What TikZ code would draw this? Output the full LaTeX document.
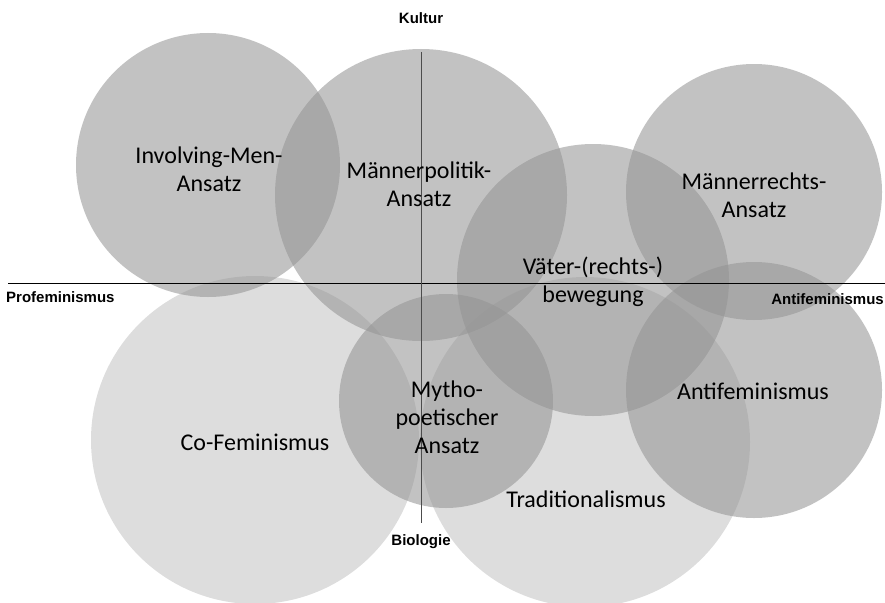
\documentclass[tikz,border=0pt]{standalone}
\usepackage{fontspec}
\setmainfont{Carlito}
\newfontfamily\axisfont{Liberation Sans}
\definecolor{circlegray}{gray}{0.58}

\begin{document}
\begin{tikzpicture}[x=1pt,y=-1pt,
    darkcircle/.style={fill=circlegray,fill opacity=0.57},
    lightcircle/.style={fill=circlegray,fill opacity=0.32},
    field/.style={font=\fontsize{24}{28}\selectfont,align=center,inner sep=0pt},
    axislabel/.style={font=\axisfont\bfseries\fontsize{15}{17}\selectfont,inner sep=0pt}]
  \useasboundingbox (0,0) rectangle (885,602);
  \clip (0,0) rectangle (885,602);
  % helle Kreise
  \foreach \x/\y/\r in {255/440/164, 585/442/165}
    \fill[lightcircle] (\x,\y) circle (\r pt);
  % dunkle Kreise
  \foreach \x/\y/\r in {208/165/132, 421/195/146, 754/192/128, 593/280/136, 754/390/128, 446/401/107}
    \fill[darkcircle] (\x,\y) circle (\r pt);
  % Achsen
  \coordinate (west) at (8,283);
  \coordinate (east) at (885,283);
  \coordinate (top) at (421,52);
  \coordinate (bottom) at (421,523);
  \draw[line width=1pt] (west) -- (east);
  \draw[line width=1pt,black!70] (top) -- (bottom);
  \node[axislabel] (kultur) at (421,18) {Kultur};
  \node[axislabel] (biologie) at (421,542) {Biologie};
  \node[axislabel,anchor=west] (profem) at (6,297) {Profeminismus};
  \node[axislabel,anchor=east] (antifem) at (884,299) {Antifeminismus};
  % Felder
  \node[field] (involving) at (209,169) {Involving-Men-\\Ansatz};
  \node[field] (politik) at (419,184) {Männerpolitik-\\Ansatz};
  \node[field] (rechte) at (754,195) {Männerrechts-\\Ansatz};
  \node[field] (vaeter) at (593,282) {Väter-(rechts-)\\bewegung};
  \node[field] (anti) at (753,391) {Antifeminismus};
  \node[field] (mytho) at (447,417) {Mytho-\\poetischer\\Ansatz};
  \node[field] (cofem) at (255,442) {Co-Feminismus};
  \node[field] (trad) at (586,499) {Traditionalismus};
\end{tikzpicture}
\end{document}
